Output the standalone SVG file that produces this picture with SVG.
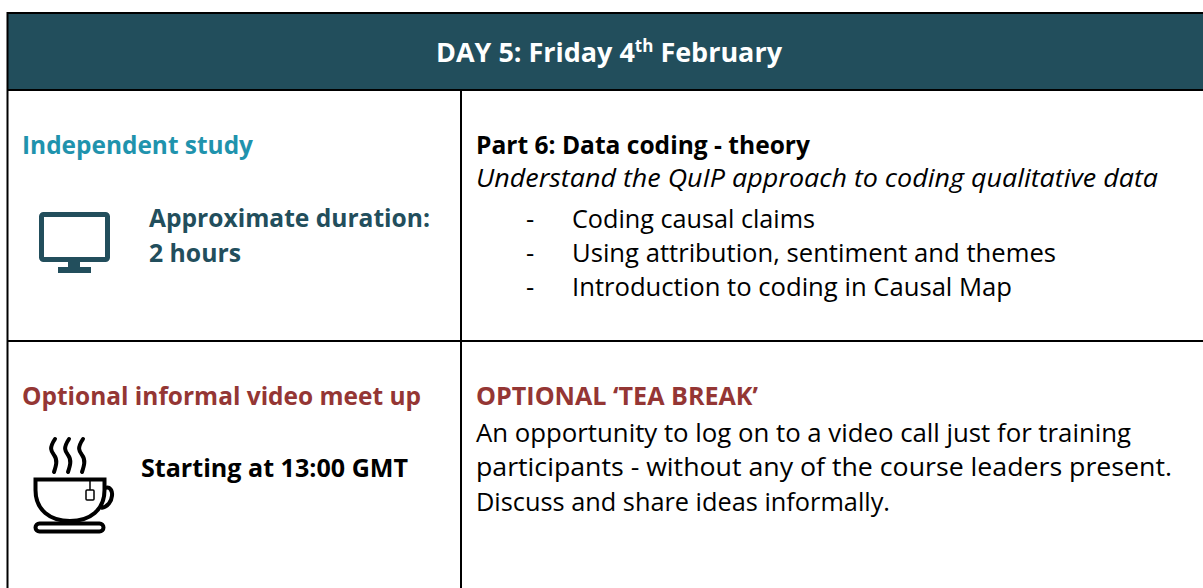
<svg xmlns="http://www.w3.org/2000/svg" width="1203" height="588" viewBox="0 0 1203 588">
<style>
text{font-family:"Open Sans","Noto Sans",sans-serif;font-size:25.5px;fill:#000}
.b{font-weight:700;font-size:25px}
.t{fill:#224e5c}
.r{fill:#943634}
.l{stroke:#000;stroke-width:2;fill:none}
</style>
<rect width="1203" height="588" fill="#fff"/>
<g id="header">
<rect x="8" y="13" width="1195" height="77" fill="#224e5c"/>
<text class="b" x="436" y="62" style="fill:#fff;font-size:27px" textLength="346" lengthAdjust="spacingAndGlyphs">DAY 5: Friday 4<tspan dy="-10" font-size="17">th</tspan><tspan dy="10"> February</tspan></text>
</g>
<g id="grid">
<path class="l" d="M7 13H1203M7 90H1203M7 341H1203M7.500 12V588M461 90V588"/>
</g>
<g id="study">
<text class="b" x="22" y="154" style="fill:#1f93ad" textLength="231" lengthAdjust="spacingAndGlyphs">Independent study</text>
<text class="b t" x="149" y="227" textLength="281" lengthAdjust="spacingAndGlyphs">Approximate duration:</text>
<text class="b t" x="149" y="262" textLength="92" lengthAdjust="spacingAndGlyphs">2 hours</text>
<g id="monitor">
<rect x="41.500" y="214.500" width="66" height="45" rx="2" fill="none" stroke="#224e5c" stroke-width="5"/>
<rect x="68" y="261" width="12" height="7" fill="#224e5c"/>
<rect x="58" y="267" width="33" height="6" fill="#224e5c"/>
</g>
</g>
<g id="part6">
<text class="b" x="476" y="154" textLength="334" lengthAdjust="spacingAndGlyphs">Part 6: Data coding - theory</text>
<text x="476" y="187" font-style="italic" textLength="682" lengthAdjust="spacingAndGlyphs">Understand the QuIP approach to coding qualitative data</text>
<text x="526" y="228">-</text><text x="572" y="228" textLength="243" lengthAdjust="spacingAndGlyphs">Coding causal claims</text>
<text x="526" y="262">-</text><text x="572" y="262" textLength="484" lengthAdjust="spacingAndGlyphs">Using attribution, sentiment and themes</text>
<text x="526" y="296">-</text><text x="572" y="296" textLength="440" lengthAdjust="spacingAndGlyphs">Introduction to coding in Causal Map</text>
</g>
<g id="meetup">
<text class="b r" x="22" y="405" textLength="399" lengthAdjust="spacingAndGlyphs">Optional informal video meet up</text>
<text class="b" x="141" y="477" textLength="267" lengthAdjust="spacingAndGlyphs">Starting at 13:00 GMT</text>
<g id="cup" fill="none" stroke="#000" stroke-width="4">
<path d="M35.500 479.500H104.500V490C104.500 510 90 521 70 521C50 521 35.500 510 35.500 490Z"/>
<path d="M105 488C115 484 115 506 101 508"/>
<rect x="35.500" y="523.500" width="68" height="8" rx="4"/>
<path d="M55 439C49 448 51 451 54 455C58 460 56 466 54 472M69 439C63 448 65 451 68 455C72 460 70 466 68 472M83 439C77 448 79 451 82 455C86 460 84 466 82 472" stroke-linecap="round"/>
<path d="M90 481V490" stroke-width="1.500"/>
<rect x="86" y="490" width="8" height="10" rx="1" stroke-width="1.500"/>
</g>
</g>
<g id="tea">
<text class="b r" x="476" y="405" textLength="282" lengthAdjust="spacingAndGlyphs">OPTIONAL ‘TEA BREAK’</text>
<text x="476" y="442" textLength="655" lengthAdjust="spacingAndGlyphs">An opportunity to log on to a video call just for training</text>
<text x="476" y="476" textLength="696" lengthAdjust="spacingAndGlyphs">participants - without any of the course leaders present.</text>
<text x="476" y="511" textLength="414" lengthAdjust="spacingAndGlyphs">Discuss and share ideas informally.</text>
</g>
</svg>
